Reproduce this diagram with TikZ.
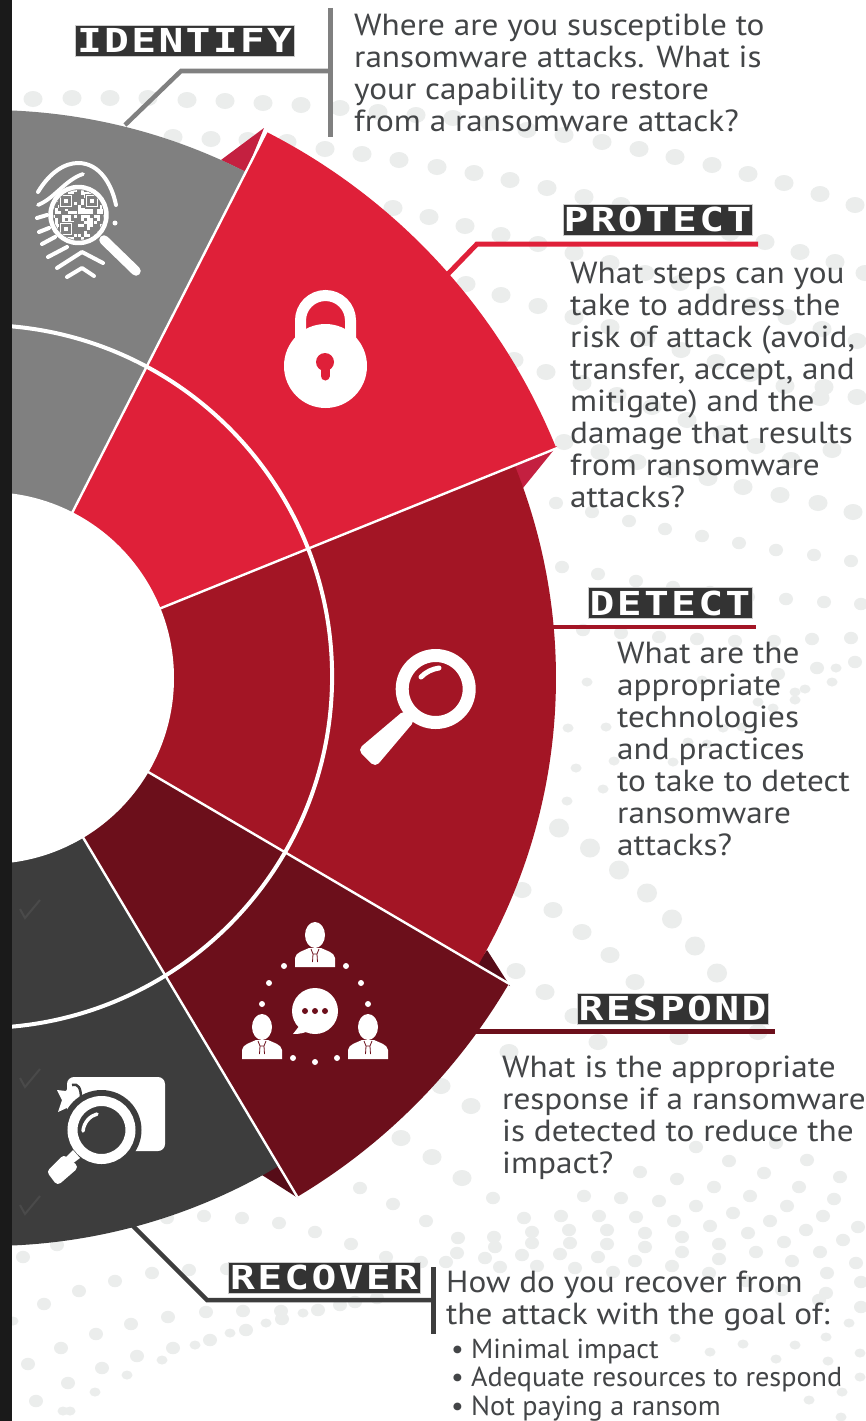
\documentclass[tikz,border=0pt]{standalone}
\usepackage{fontspec}
\setmainfont[FakeStretch=1.09]{PT Sans}
\newfontfamily\smallf[FakeStretch=1.025]{PT Sans}
\newfontfamily\headf[FakeStretch=1.25,LetterSpace=7]{DejaVu Sans Mono Bold}
\definecolor{dotc}{HTML}{EBEDEC}
\definecolor{cgray}{HTML}{808080}
\definecolor{cred}{HTML}{DF2039}
\definecolor{cdred}{HTML}{A31525}
\definecolor{cmaroon}{HTML}{6C0F1B}
\definecolor{cdark}{HTML}{3D3D3D}
\definecolor{ctext}{HTML}{434547}
\definecolor{chead}{HTML}{333333}
\definecolor{cstrip}{HTML}{1A1A1A}
\definecolor{ctri}{HTML}{C42040}
\definecolor{ctrib}{HTML}{560C18}
\tikzset{
  x=1pt,y=1pt,
  heading/.style={fill=chead,text=white,draw=white!75!chead,line width=.5pt,inner sep=0pt,minimum height=31pt,font=\headf\fontsize{33}{33}\selectfont},
  body/.style={anchor=north west,align=left,inner sep=0pt,text=ctext,font=\fontsize{30.5}{32}\selectfont},
  small/.style={anchor=north west,align=left,inner sep=0pt,text=ctext,font=\smallf\fontsize{27.5}{28.5}\selectfont},
  leader/.style={line width=#1,line join=miter},
  wline/.style={draw=white,line width=2.4pt},
  ico/.style={draw=white,line cap=round,line join=round},
}
\newcommand{\rsSector}[4]{\fill[#4] (c) -- ++(#1:#3) arc[start angle=#1,end angle=#2,radius=#3] -- cycle;}
\newcommand{\rsPerson}[2]{%
  \begin{scope}[shift={(#1,-#2)}]
    \fill[white] (0,0) ellipse (10 and 13);
    \fill[white] (-20,-32) -- (-20,-23) .. controls (-19,-17) and (-12,-16) .. (-6,-13) -- (6,-13) .. controls (12,-16) and (19,-17) .. (20,-23) -- (20,-32) -- cycle;
    \draw[cmaroon,line width=.8pt] (-4,-14) -- (-2,-19) -- (-2.5,-27) (4,-14) -- (2,-19) -- (2.5,-27) (-2,-19) -- (2,-19);
  \end{scope}}
\newcommand{\rsTick}[1]{\draw[cdark!93!white,line width=2pt] (20,-#1) -- (25,-#1-9) -- (40,-#1+9);}
\begin{document}
\begin{tikzpicture}
\useasboundingbox (0,0) rectangle (866,-1421);
\clip (0,0) rectangle (866,-1421);
\fill[white] (0,0) rectangle (866,-1421);
\coordinate (c) at (-12,-678);
\coordinate (cr) at (-19.4,-676.5);
% background dots: large
\foreach \x/\y in {33/99,72/98,110/98,148/98,187/100,225/101,263/103,301/105,340/108,378/112,416/115,453/118,490/123,527/130,564/135,602/142,639/149,675/157,712/165,748/174,784/183,820/194,855/205,
173/137,211/139,248/140,287/142,325/149,362/154,399/160,437/167,474/173,510/180,547/188,584/197,621/205,658/214,695/224,730/233,765/242,800/252,835/262,
393/208,429/217,465/226,501/235,538/244,574/253,610/263,645/273,680/283,716/294,752/305,787/317,822/329,857/341,865/273,
466/284,501/295,538/306,574/317,610/327,646/338,681/350,716/362,750/374,785/386,820/398,857/397,
514/360,546/372,582/383,617/395,652/407,687/420,722/433,756/446,791/460,824/387,832/450,
564/442,600/452,637/462,672/470,708/478,743/487,780/495,818/503,853/512,
522/890,553/910,582/932,610/955,635/982,516/971,545/992,574/1016,598/1042,509/1052,679/1037,758/1032,717/974,
441/1086,471/1106,401/1138,432/1157,462/1178}
  {\fill[dotc] (\x,-\y) ellipse (9.5 and 8);}
% medium
\foreach \x/\y in {556/503,592/512,629/521,665/529,702/536,739/543,776/550,814/555,851/561,
562/567,598/574,636/581,673/587,710/592,748/597,786/599,824/602,861/604,
583/630,621/633,659/637,697/639,735/641,774/641,812/639,851/638,
778/674,817/668,855/662,
360/1188,393/1204,426/1221,315/1232,351/1244,386/1257,493/1198,524/1218,561/1216,599/1216,636/1217,674/1221,710/1226,748/1233,784/1242,820/1252,856/1263,
584/1196,621/1198,659/1201,696/1206,733/1213,770/1221,806/1230,843/1240,
640/1172,677/1179,714/1187,750/1196,787/1206,823/1216,858/1227,
729/1161,764/1173,799/1187,834/1199,807/1160,840/1177,696/1147,776/1143,
494/1237,532/1232,569/1230,607/1230,645/1233,682/1237,719/1244,756/1252,792/1261,827/1273,861/1282,
458/1238,495/1247,532/1243,570/1243,607/1244,645/1247,682/1252,719/1259,
457/1253,485/1258,522/1255,560/1254,598/1257,635/1261,672/1266,709/1273,746/1281,782/1290,819/1300,
446/1262,500/1267,537/1266,575/1268,613/1272,
23/1257,57/1245,79/1291,44/1304,115/1281,152/1273,189/1270,227/1269,96/1334,61/1348,28/1364,131/1324,168/1317,206/1312,243/1311,281/1311,318/1310,355/1302,377/1298,340/1305,282/1319,246/1330,210/1340,173/1348,137/1356,102/1368,68/1383,36/1401,
204/1216,242/1218,279/1223,167/1218,421/1262,826/1293,861/1307}
  {\fill[dotc] (\x,-\y) ellipse (7 and 6.2);}
% small
\foreach \x/\y in {230/1333,266/1323,303/1313,195/1345,162/1360,127/1375,95/1392,63/1411,70/1411,13/1321,
849/1323,675/1338,710/1352,743/1344,776/1359,795/1345,828/1361,826/1337,809/1400,842/1392,860/1377,841/1417,860/1353,
587/682,702/680,836/668,832/682,805/689,795/692,795/700,758/702,773/708,723/728,742/727,568/728,606/727,576/768,614/761,673/762,688/742,707/744,603/789,567/801}
  {\fill[dotc] (\x,-\y) ellipse (5.5 and 4.5);}
\foreach \x/\y in {559/828,590/848,619/870,647/893,672/919,695/946,717/973}
  {\fill[dotc] (\x,-\y) ellipse (10 and 9.5);}
% leaders
\coordinate (la) at (125,-125); \coordinate (lb) at (181,-71); \coordinate (lc) at (330,-71);
\coordinate (ld) at (330,-8); \coordinate (le) at (330,-137);
\draw[leader=4.5pt,cgray] (la) -- (lb) -- (lc);
\draw[leader=5pt,cgray] (ld) -- (le);
\coordinate (pa) at (447,-275); \coordinate (pb) at (477,-244); \coordinate (pc) at (758,-244);
\draw[leader=5pt,cred] (pa) -- (pb) -- (pc);
\coordinate (da) at (550,-627); \coordinate (db) at (756,-627);
\draw[leader=4.5pt,cdred] (da) -- (db);
\coordinate (ra) at (470,-1031); \coordinate (rb) at (775,-1031);
\draw[leader=5pt,cmaroon] (ra) -- (rb);
\coordinate (va) at (130,-1223); \coordinate (vb) at (207,-1300); \coordinate (vc) at (433,-1300);
\coordinate (vd) at (433,-1267); \coordinate (ve) at (433,-1334);
\draw[leader=4.5pt,cdark] (va) -- (vb) -- (vc);
\draw[leader=5pt,cdark] (vd) -- (ve);
% small fold triangles
\fill[ctri] (264,-128) -- (221,-160) -- (246,-172) -- cycle;
\fill[ctri] (557,-446) -- (512,-465) -- (523,-488) -- cycle;
\fill[ctrib] (510,-986) -- (487,-950) -- (476,-966) -- cycle;
\fill[ctrib] (298,-1198) -- (277,-1165) -- (262,-1175) -- cycle;
% sectors
\rsSector{63}{100}{568}{cgray}
\rsSector{22}{63}{613}{cred}
\rsSector{-30.4}{22}{568}{cdred}
\rsSector{-59.2}{-30.4}{604}{cmaroon}
\rsSector{-100}{-59.2}{568}{cdark}
% white separators
\foreach \a/\r in {63/614,22/614,-30.4/605,-59.2/605}
  \draw[wline] (c) -- ++(\a:\r);
\draw[white,line width=4pt] (cr) circle (351.5);
\fill[white] (c) circle (186);
% strip
\fill[cstrip] (0,0) rectangle (12,-1421);
% ticks
\rsTick{909}\rsTick{1078}\rsTick{1205}
% identify icon
\begin{scope}
  \draw[ico,line width=4pt] (38,-192) .. controls (50,-172) and (65,-163) .. (78,-163) .. controls (100,-163) and (112,-185) .. (116,-205);
  \draw[ico,line width=3.8pt] (38,-205) .. controls (55,-198) and (65,-180) .. (83,-174);
  \draw[ico,line width=4pt] (37,-218) -- (47,-215) (39,-232) -- (49,-228) (42,-244) -- (55,-237) (48,-257) -- (67,-247);
  \draw[ico,line width=4pt] (57,-268) -- (82,-252) -- (103,-263) (67,-277) -- (82,-268) -- (94,-276);
  \fill[white] (115,-223) circle (2.5);
  \draw[ico,line width=9.5pt] (104,-240) -- (136,-271);
  \draw[ico,line cap=butt,line width=4.5pt,fill=cgray] (78.5,-215) circle (28);
  \begin{scope}
    \clip (78.5,-215) circle (25);
    \pgfmathsetseed{4711}
    \foreach \i in {0,...,16} \foreach \j in {0,...,16} {
      \pgfmathparse{rnd<0.55 ? 1 : 0}
      \ifnum\pgfmathresult=1 \fill[white] (52+\i*3.2,-189-\j*3.2) rectangle ++(2.9,-2.9); \fi
    }
    \foreach \p/\q in {66/201,92/201,66/229} {
      \fill[cgray] (\p-7.5,-\q+7.5) rectangle (\p+7.5,-\q-7.5);
      \draw[white,line width=1.5pt] (\p-5.5,-\q+5.5) rectangle (\p+5.5,-\q-5.5);
      \fill[white] (\p-2,-\q+2) rectangle (\p+2,-\q-2);
    }
  \end{scope}
\end{scope}
% lock
\draw[white,line width=11pt] (300.5,-340) -- (300.5,-320.5) arc[start angle=180,end angle=0,radius=25] -- (350.5,-340);
\fill[white] (325.5,-366) ellipse (41.5 and 42);
\fill[cred] (325,-362) circle (9);
\draw[cred,line width=9pt,line cap=round] (325,-364) -- (325,-376);
% detect magnifier
\draw[white,line width=13pt] (435.7,-689) circle (33.5);
\draw[white,line width=5pt,line cap=round] (421,-677) .. controls (426,-672) and (432,-669) .. (439,-668);
\filldraw[white,line width=10pt,line join=round] (404,-717) -- (408,-721) -- (375,-760) -- (365,-750) -- cycle;
% respond icon
\rsPerson{315}{935}
\rsPerson{262}{1027}
\rsPerson{368}{1027}
\fill[white] (315,-1011) circle (23);
\fill[white] (300,-1025) -- (293,-1034) .. controls (300,-1034) and (305,-1033) .. (310,-1030) -- cycle;
\foreach \x in {305,315,325} \fill[cmaroon] (\x,-1011) circle (3);
\foreach \x/\y in {284/966,346/966,269/983,361/983,262/1004,368/1004,293/1058,315/1062,337/1058}
  \fill[white] (\x,-\y) circle (3);
% recover icon
\fill[white,rounded corners=7pt] (67,-1077) rectangle (165,-1151);
\fill[white] (57,-1090) -- (66,-1091) -- (70,-1084) -- (76,-1084) -- (80,-1090) -- (80,-1098) -- (69,-1107) -- (58,-1112) -- (62,-1100) -- cycle;
\draw[cdark,line width=2.5pt] (72,-1085) .. controls (78,-1083) and (81,-1088) .. (81,-1098);
\fill[cdark] (101.5,-1130) circle (40);
\draw[white,line width=10pt] (101.5,-1130) circle (29);
\draw[white,line width=3.5pt,line cap=round] (83,-1131) .. controls (84,-1122) and (90,-1116) .. (97,-1114);
\fill[white] (73,-1150) -- (80,-1158) -- (72,-1164) -- (66,-1157) -- cycle;
\filldraw[white,line width=8pt,line join=round] (64,-1160) -- (52,-1172) -- (58,-1180) -- (73,-1167) -- cycle;
% headings
\node[heading,minimum width=219pt] (hid) at (184.5,-40.5) {IDENTIFY};
\node[heading,minimum width=189pt] (hpr) at (657.5,-219.5) {PROTECT};
\node[heading,minimum width=164pt] (hde) at (670,-603) {DETECT};
\node[heading,minimum width=191pt] (hre) at (672.5,-1008.5) {RESPOND};
\node[heading,minimum width=192pt] (hrc) at (324,-1277.5) {RECOVER};
% texts
\node[body] (tid) at (354,-11) {\rule{0pt}{24pt}Where are you susceptible to\\ransomware attacks. What is\\your capability to restore\\from a ransomware attack?};
\node[body] (tpr) at (570,-259) {\rule{0pt}{24pt}What steps can you\\take to address the\\risk of attack (avoid,\\transfer, accept, and\\mitigate) and the\\damage that results\\from ransomware\\attacks?};
\node[body] (tde) at (617,-639) {\rule{0pt}{24pt}What are the\\appropriate\\technologies\\and practices\\to take to detect\\ransomware\\attacks?};
\node[body] (tre) at (502,-1053) {\rule{0pt}{24pt}What is the appropriate\\response if a ransomware\\is detected to reduce the\\impact?};
\node[body] (trc) at (446,-1268) {\rule{0pt}{24pt}How do you recover from\\the attack with the goal of:};
\node[small] (trb) at (451,-1336) {\rule{0pt}{22pt}\makebox[20pt][l]{•}Minimal impact\\\makebox[20pt][l]{•}Adequate resources to respond\\\makebox[20pt][l]{•}Not paying a ransom};
\end{tikzpicture}
\end{document}
